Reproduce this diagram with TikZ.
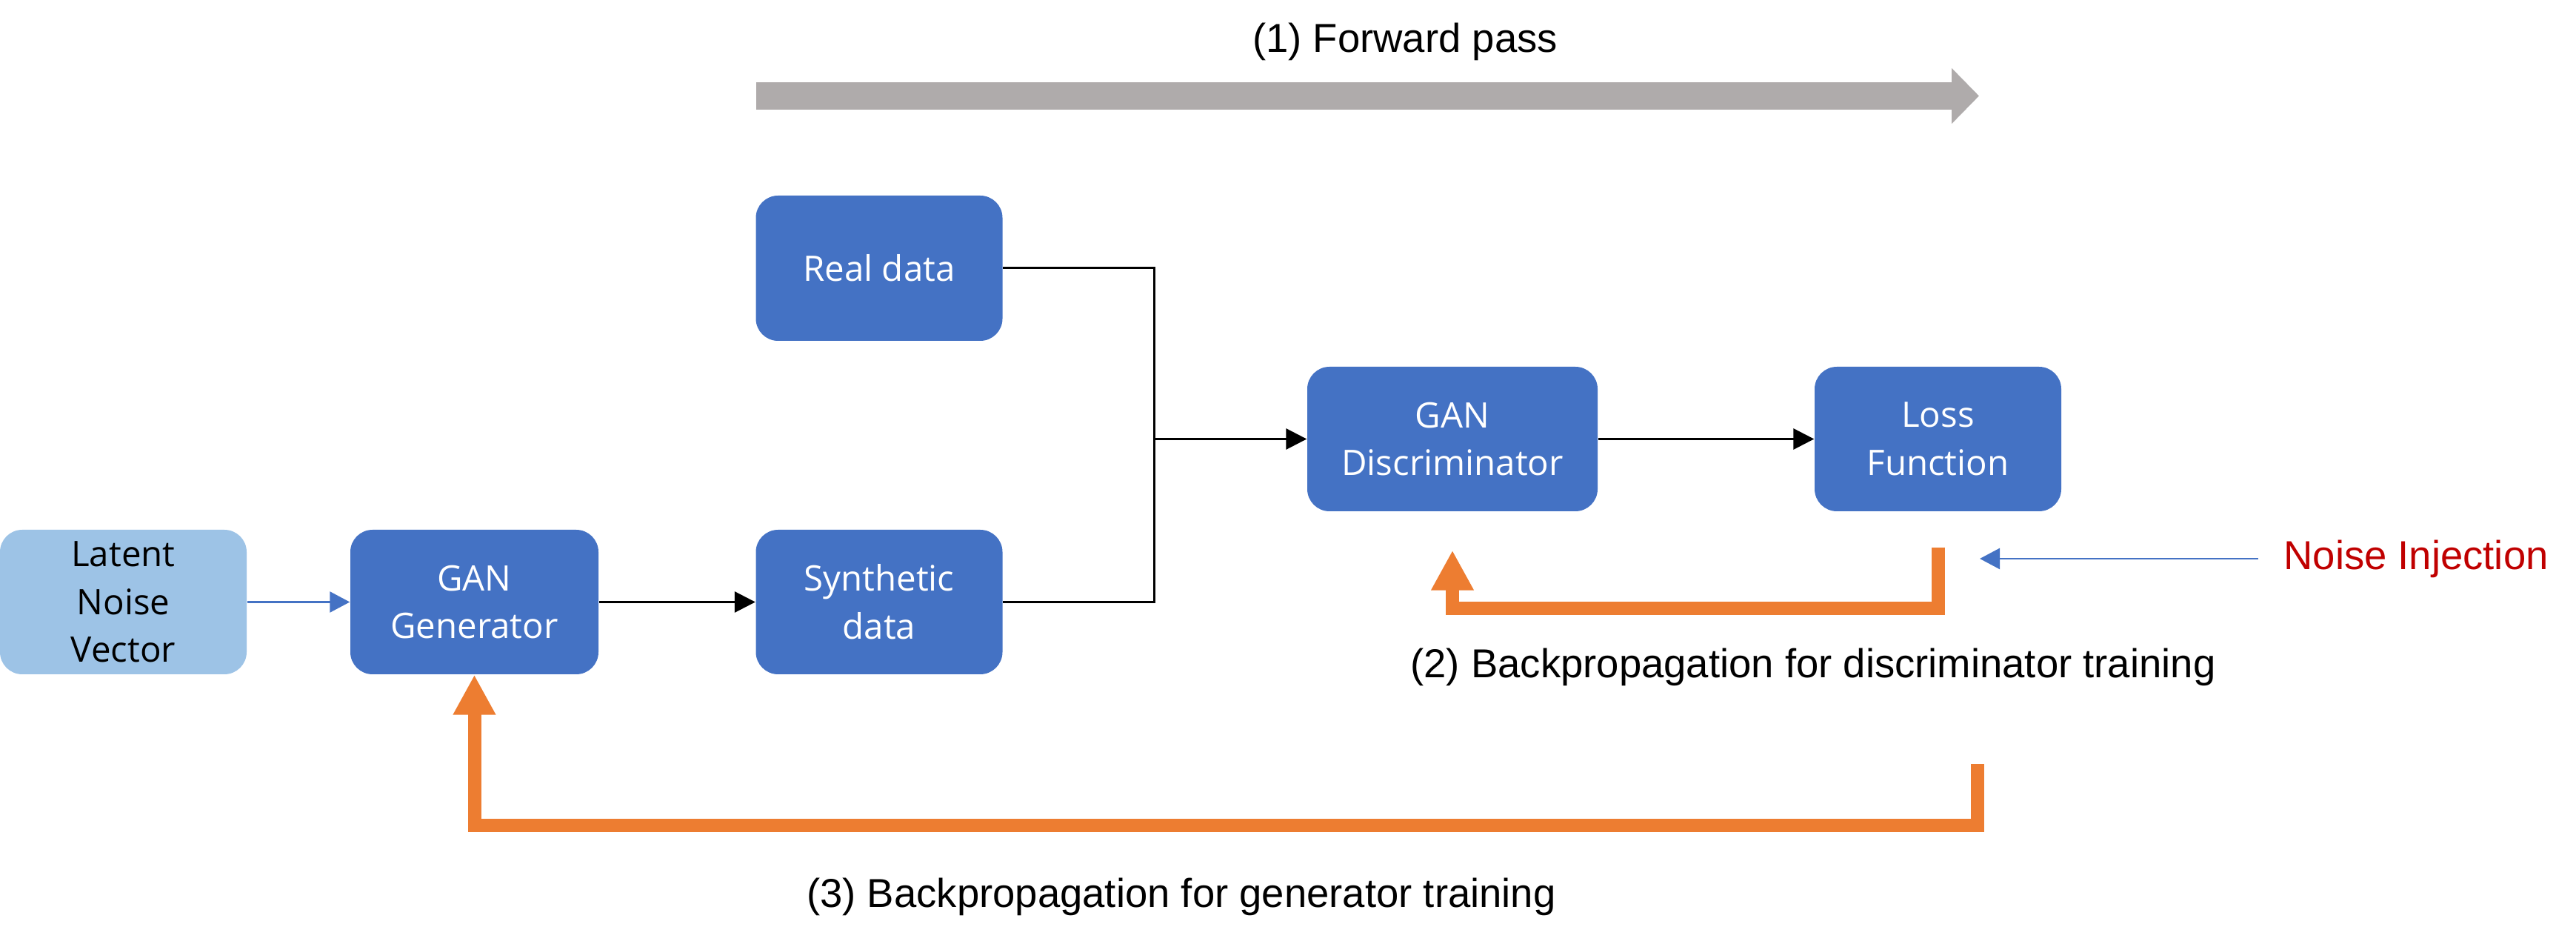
\documentclass[tikz,border=0pt]{standalone}
\usepackage{fontspec}
\setmainfont{Liberation Sans}
\newfontfamily\boxfont{Open Sans}
\usetikzlibrary{arrows.meta}
\definecolor{boxblue}{HTML}{4472C4}
\definecolor{lightblue}{HTML}{9DC3E6}
\definecolor{bporange}{HTML}{ED7D31}
\definecolor{fwdgray}{HTML}{AFABAB}
\definecolor{noisered}{HTML}{C00000}
\begin{document}
\begin{tikzpicture}[
    box/.style={rounded corners=0.3cm, fill=boxblue, text=white, align=center, inner sep=0pt,
        minimum width=3.33cm, minimum height=1.95cm, font=\boxfont\fontsize{13.5}{18.4}\selectfont},
    label/.style={font=\fontsize{15.5}{18}\selectfont, inner sep=0pt},
    link/.style={black, line width=0.03cm, -{Triangle[length=0.28cm, width=0.28cm]}},
    bluelink/.style={boxblue, line width=0.025cm, -{Triangle[length=0.27cm, width=0.28cm]}},
    backprop/.style={bporange, line width=0.18cm, -{Triangle[length=0.54cm, width=0.54cm]}}
  ]
    \useasboundingbox (0,0) rectangle (34.78,-12.74);
    % forward pass arrow
    \coordinate (fwd_s) at (10.21,-1.295);
    \coordinate (fwd_e) at (26.72,-1.295);
    \draw[fwdgray, line width=0.37cm, -{Triangle[length=0.37cm, width=0.73cm]}] (fwd_s) -- (fwd_e);
    \node[label] (fwd_lbl) at (18.97,-0.56) {(1) Forward pass};
    % blocks
    \node[box, fill=lightblue, text=black] (latent) at (1.665,-8.125) {Latent\\Noise\\Vector};
    \node[box, minimum width=3.35cm] (gen) at (6.405,-8.125) {GAN\\Generator};
    \node[box] (synth) at (11.87,-8.125) {Synthetic\\data};
    \node[box, minimum height=1.96cm] (real) at (11.87,-3.62) {Real data};
    \node[box, minimum width=3.92cm] (disc) at (19.61,-5.925) {GAN\\Discriminator};
    \node[box] (loss) at (26.165,-5.925) {Loss\\Function};
    % forward connectors
    \coordinate (join) at (15.58,-5.925);
    \draw[bluelink] (latent.east) -- (gen.west);
    \draw[link] (gen.east) -- (synth.west);
    \draw[black, line width=0.03cm] (real.east) -| (join) |- (synth.east);
    \draw[link] (join) -- (disc.west);
    \draw[link] (disc.east) -- (loss.west);
    % noise injection
    \node[label, text=noisered] (noise) at (32.62,-7.54) {Noise Injection};
    \coordinate (inj) at (26.73,-7.54);
    \draw[bluelink] ([xshift=-0.34cm]noise.west) -- (inj);
    % backpropagation loops
    \coordinate (bp2_s) at ([yshift=-0.48cm]loss.south);
    \coordinate (bp2_e) at ([yshift=-0.52cm]disc.south);
    \draw[backprop] (bp2_s) -- ++(0,-0.82) -| (bp2_e);
    \node[label] (bp2_lbl) at (24.48,-9.00) {(2) Backpropagation for discriminator training};
    \coordinate (bp3_s) at (26.70,-10.31);
    \draw[backprop] (bp3_s) -- ++(0,-0.83) -| (gen.south);
    \node[label] (bp3_lbl) at (15.95,-12.10) {(3) Backpropagation for generator training};
\end{tikzpicture}
\end{document}
